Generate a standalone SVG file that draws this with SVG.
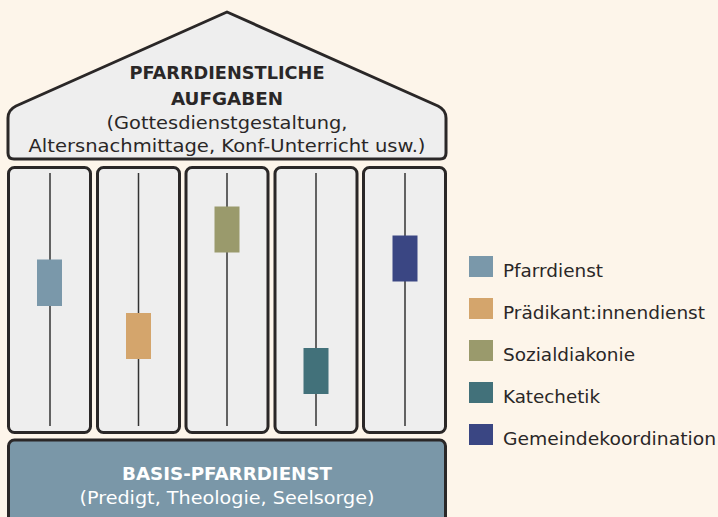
<svg xmlns="http://www.w3.org/2000/svg" width="718" height="517" viewBox="0 0 718 517">
<style>
.bg{fill:#fdf5ea}
.frame{fill:#eeeeee;stroke:#2a2727;stroke-width:3;stroke-linejoin:round}
.axis{stroke:#333;stroke-width:1.5}
.t{font-family:"DejaVu Sans","Open Sans",sans-serif;fill:#2a2727;text-anchor:middle}
.b{font-weight:bold}
.w{fill:#ffffff}
.lg{font-family:"DejaVu Sans","Open Sans",sans-serif;fill:#2a2727;font-size:17.5px}
</style>
<rect class="bg" x="0" y="0" width="718" height="517"/>
<g id="roof">
<path class="frame" d="M 227 12 L 16 106 Q 8 110 8 118 L 8 153 Q 8 159 14 159 L 440 159 Q 446 159 446 153 L 446 118 Q 446 110 438 106 Z"/>
<text class="t b" x="227" y="79" font-size="18" textLength="195" lengthAdjust="spacingAndGlyphs">PFARRDIENSTLICHE</text>
<text class="t b" x="227" y="105" font-size="18" textLength="112" lengthAdjust="spacingAndGlyphs">AUFGABEN</text>
<text class="t" x="227" y="129" font-size="17.5" textLength="241" lengthAdjust="spacingAndGlyphs">(Gottesdienstgestaltung,</text>
<text class="t" x="227" y="152" font-size="17.5" textLength="397" lengthAdjust="spacingAndGlyphs">Altersnachmittage, Konf-Unterricht usw.)</text>
</g>
<g id="pillar1">
<rect class="frame" x="8.5" y="167.5" width="82" height="265" rx="6"/>
<line class="axis" x1="50" y1="173" x2="50" y2="426"/>
<rect x="37" y="259.5" width="25" height="46.5" fill="#7a98aa"/>
</g>
<g id="pillar2">
<rect class="frame" x="97.5" y="167.5" width="82" height="265" rx="6"/>
<line class="axis" x1="138.5" y1="173" x2="138.5" y2="426"/>
<rect x="126" y="313" width="25" height="46" fill="#d4a56c"/>
</g>
<g id="pillar3">
<rect class="frame" x="186" y="167.5" width="82" height="265" rx="6"/>
<line class="axis" x1="227" y1="173" x2="227" y2="426"/>
<rect x="214.5" y="206.5" width="25" height="46" fill="#9a9a6c"/>
</g>
<g id="pillar4">
<rect class="frame" x="275" y="167.5" width="82" height="265" rx="6"/>
<line class="axis" x1="316" y1="173" x2="316" y2="426"/>
<rect x="303.5" y="348" width="25" height="46" fill="#42717a"/>
</g>
<g id="pillar5">
<rect class="frame" x="363.5" y="167.5" width="82" height="265" rx="6"/>
<line class="axis" x1="405" y1="173" x2="405" y2="426"/>
<rect x="392.5" y="235.5" width="25" height="46" fill="#3a4683"/>
</g>
<g id="base">
<rect x="8.5" y="440" width="437" height="90" rx="6" fill="#7a97a8" stroke="#2a2727" stroke-width="3"/>
<text class="t b w" x="227" y="480" font-size="18.5" textLength="210" lengthAdjust="spacingAndGlyphs">BASIS-PFARRDIENST</text>
<text class="t w" x="227" y="504" font-size="17.5" textLength="295" lengthAdjust="spacingAndGlyphs">(Predigt, Theologie, Seelsorge)</text>
</g>
<g id="legend">
<rect x="469" y="256" width="24" height="21" fill="#7a98aa"/>
<text class="lg" x="503" y="277" textLength="100" lengthAdjust="spacingAndGlyphs">Pfarrdienst</text>
<rect x="469" y="298" width="24" height="21" fill="#d4a56c"/>
<text class="lg" x="503" y="319" textLength="202" lengthAdjust="spacingAndGlyphs">Prädikant:innendienst</text>
<rect x="469" y="340" width="24" height="21" fill="#9a9a6c"/>
<text class="lg" x="503" y="361" textLength="132" lengthAdjust="spacingAndGlyphs">Sozialdiakonie</text>
<rect x="469" y="382" width="24" height="21" fill="#42717a"/>
<text class="lg" x="503" y="403" textLength="97" lengthAdjust="spacingAndGlyphs">Katechetik</text>
<rect x="469" y="424" width="24" height="21" fill="#3a4683"/>
<text class="lg" x="503" y="445" textLength="213" lengthAdjust="spacingAndGlyphs">Gemeindekoordination</text>
</g>
</svg>
